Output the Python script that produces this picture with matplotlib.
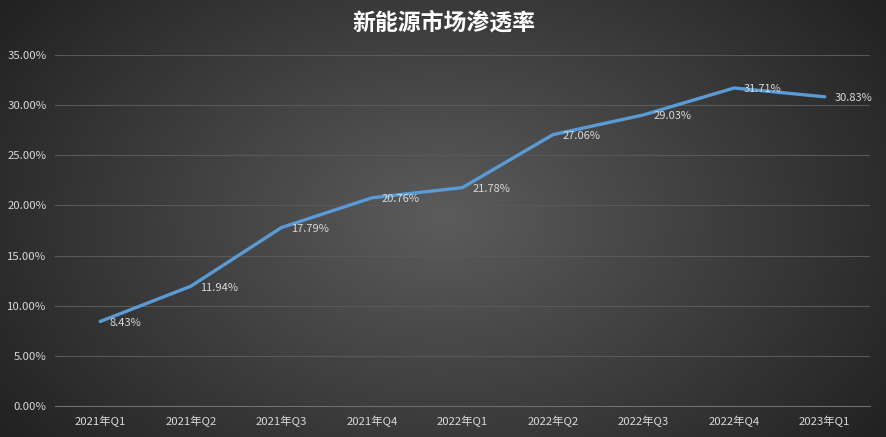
import numpy as np
import matplotlib.pyplot as plt
from matplotlib.ticker import FuncFormatter

plt.rcParams['font.family'] = ['Noto Sans CJK SC', 'DejaVu Sans']

quarters = ['2021年Q1', '2021年Q2', '2021年Q3', '2021年Q4', '2022年Q1',
            '2022年Q2', '2022年Q3', '2022年Q4', '2023年Q1']
rates = [8.43, 11.94, 17.79, 20.76, 21.78, 27.06, 29.03, 31.71, 30.83]

fig = plt.figure(figsize=(8.87, 4.37), dpi=100)

# radial gradient background
bg = fig.add_axes([0, 0, 1, 1], zorder=0)
yy, xx = np.mgrid[0:437, 0:887]
r = np.sqrt(((xx - 443) / 620.0) ** 2 + ((yy - 218) / 420.0) ** 2)
shade = np.clip(0.36 - 0.26 * r, 0.12, 0.4)
bg.imshow(np.dstack([shade] * 3), aspect='auto', extent=[0, 1, 0, 1])
bg.axis('off')

ax = fig.add_axes([55 / 887, 31 / 437, 815 / 887, 351 / 437], zorder=1)
ax.patch.set_alpha(0)

x = np.arange(len(quarters))
ax.plot(x, rates, color='#5B9BD5', lw=2.4, solid_capstyle='round', zorder=3)
for xi, v in zip(x, rates):
    ax.annotate(f'{v:.2f}%', (xi, v), xytext=(7, -1), textcoords='offset points',
                ha='left', va='center', fontsize=8, color='#d9d9d9')

ax.set_xlim(-0.5, len(quarters) - 0.5)
ax.set_ylim(0, 35)
ax.set_yticks(np.arange(0, 36, 5))
ax.yaxis.set_major_formatter(FuncFormatter(lambda v, p: f'{v:.2f}%'))
ax.set_xticks(x)
ax.set_xticklabels(quarters)
ax.grid(axis='y', color='#595959', lw=0.8)
ax.set_axisbelow(True)
for s in ['top', 'right', 'left']:
    ax.spines[s].set_visible(False)
ax.spines['bottom'].set_color('#6e6e6e')
ax.tick_params(length=0, labelsize=8.2, colors='#d9d9d9')
ax.tick_params(axis='x', pad=7)
ax.tick_params(axis='y', pad=6)

fig.text(0.5, 0.948, '新能源市场渗透率', ha='center', va='center',
         fontsize=16.5, fontweight='bold', color='white')

plt.savefig('out.png', dpi=100)
